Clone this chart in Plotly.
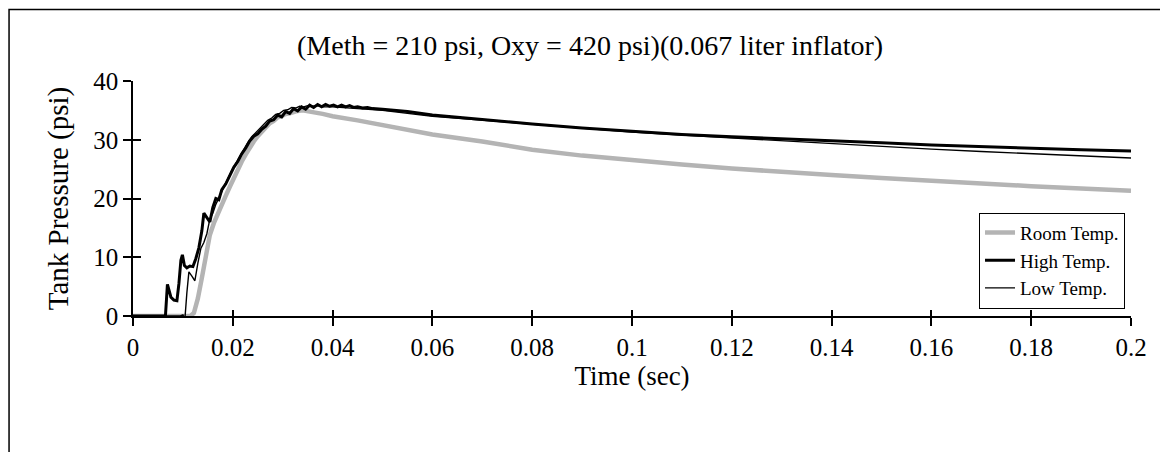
import plotly.graph_objects as go

# ---------------- data ----------------
title_text = "(Meth = 210 psi, Oxy = 420 psi)(0.067 liter inflator)"
x_title = "Time (sec)"
y_title = "Tank Pressure (psi)"
x_ticks = [0, 0.02, 0.04, 0.06, 0.08, 0.1, 0.12, 0.14, 0.16, 0.18, 0.2]
x_tick_labels = ["0", "0.02", "0.04", "0.06", "0.08", "0.1", "0.12", "0.14", "0.16", "0.18", "0.2"]
y_ticks = [0, 10, 20, 30, 40]

room_t = [0, 0.0115, 0.0122, 0.013, 0.0138, 0.0146, 0.0154, 0.0162, 0.017, 0.0178, 0.0186,
          0.0194, 0.0202, 0.021, 0.0218, 0.0226, 0.0234, 0.0242, 0.025, 0.0258, 0.0266,
          0.0274, 0.0282, 0.029, 0.0298, 0.0306, 0.0314, 0.0322, 0.033, 0.034, 0.035,
          0.036, 0.038, 0.04, 0.045, 0.05, 0.055, 0.06, 0.07, 0.08, 0.09, 0.1, 0.11,
          0.12, 0.13, 0.14, 0.15, 0.16, 0.17, 0.18, 0.19, 0.2]
room_p = [0, 0, 0.5, 3.0, 6.5, 10.5, 13.8, 15.8, 17.5, 19.2, 20.5,
          22.0, 23.5, 25.0, 26.3, 27.5, 28.7, 29.7, 30.6, 31.4, 32.1,
          32.8, 33.2, 33.8, 34.0, 34.4, 34.5, 34.8, 34.9, 35.0, 34.9,
          34.7, 34.4, 34.0, 33.3, 32.5, 31.7, 30.9, 29.7, 28.3, 27.3, 26.5, 25.8,
          25.1, 24.5, 24.0, 23.5, 23.0, 22.5, 22.1, 21.7, 21.3]

high_t = [0, 0.0065, 0.0069, 0.0072, 0.0076, 0.0082, 0.0088, 0.0092, 0.0096, 0.0099,
          0.0103, 0.0108, 0.0114, 0.012, 0.0126, 0.0132, 0.0138, 0.0142, 0.0148, 0.0154,
          0.016, 0.0166, 0.0172, 0.0178, 0.0186, 0.0194, 0.0202, 0.021, 0.0218, 0.0226,
          0.0234, 0.0242, 0.025, 0.0258, 0.0266, 0.0274, 0.0282, 0.029, 0.0298, 0.0306,
          0.0314, 0.0322, 0.033, 0.0338, 0.0346, 0.0354, 0.0362, 0.037, 0.0378, 0.0386,
          0.0394, 0.0402, 0.041, 0.0418, 0.0426, 0.0434, 0.0442, 0.045, 0.046, 0.047,
          0.048, 0.05, 0.055, 0.06, 0.07, 0.08, 0.09, 0.1, 0.11, 0.12, 0.13, 0.14, 0.15,
          0.16, 0.17, 0.18, 0.19, 0.2]
high_p = [0, 0, 5.4, 4.5, 3.2, 2.7, 2.6, 5.5, 9.5, 10.4,
          8.6, 8.2, 8.5, 8.4, 9.8, 11.6, 14.5, 17.5, 16.8, 16.0,
          18.5, 20.0, 19.8, 21.5, 22.5, 24.0, 25.3, 26.3, 27.6, 28.6,
          29.8, 30.6, 31.0, 31.8, 32.3, 33.2, 33.4, 34.2, 33.9, 34.8,
          34.5, 35.3, 34.9, 35.6, 35.2, 35.9, 35.5, 36.0, 35.6, 36.0,
          35.7, 35.9, 35.6, 35.9, 35.6, 35.8, 35.5, 35.6, 35.4, 35.5,
          35.3, 35.2, 34.8, 34.2, 33.4, 32.7, 32.0, 31.4, 30.9, 30.5, 30.2, 29.8, 29.5,
          29.1, 28.8, 28.5, 28.3, 28.1]

low_t = [0, 0.0095, 0.0100, 0.0104, 0.0108, 0.0112, 0.0118, 0.0124, 0.013, 0.0136,
         0.0142, 0.0148, 0.0154, 0.016, 0.0166, 0.0174, 0.0182, 0.019, 0.0198, 0.0206,
         0.0214, 0.0222, 0.023, 0.0238, 0.0246, 0.0254, 0.0262, 0.027, 0.0278, 0.0286,
         0.0294, 0.0302, 0.031, 0.0318, 0.0326, 0.0334, 0.0342, 0.035, 0.036, 0.037,
         0.038, 0.04, 0.045, 0.05, 0.06, 0.07, 0.08, 0.09, 0.1, 0.11, 0.12, 0.13, 0.14,
         0.15, 0.16, 0.17, 0.18, 0.19, 0.2]
low_p = [0, 0, 0.2, -0.5, 4.0, 7.5, 6.8, 6.0, 9.0, 11.5,
         12.5, 14.0, 16.5, 17.5, 19.0, 20.5, 22.0, 23.5, 24.8, 26.0,
         27.2, 28.5, 29.5, 30.5, 31.2, 32.0, 32.6, 33.3, 33.7, 34.3,
         34.5, 35.0, 35.1, 35.5, 35.4, 35.7, 35.6, 35.8, 35.7, 35.8,
         35.6, 35.6, 35.3, 35.0, 34.0, 33.3, 32.6, 31.9, 31.3, 30.8, 30.3, 29.8, 29.3,
         28.8, 28.4, 28.0, 27.6, 27.3, 26.9]

# ---------------- figure ----------------
FONT = "Liberation Serif, Times New Roman, serif"

fig = go.Figure()
fig.add_trace(go.Scatter(x=room_t, y=room_p, mode="lines", name="Room Temp.",
                         line=dict(color="#b4b4b4", width=4.5)))
fig.add_trace(go.Scatter(x=high_t, y=high_p, mode="lines", name="High Temp.",
                         line=dict(color="#000000", width=3)))
fig.add_trace(go.Scatter(x=low_t, y=low_p, mode="lines", name="Low Temp.",
                         line=dict(color="#000000", width=1.4)))
# invisible trace carrying the duplicated axes (for crossing tick marks)
fig.add_trace(go.Scatter(x=high_t, y=high_p, mode="lines", xaxis="x2", yaxis="y2",
                         line=dict(color="rgba(0,0,0,0)", width=0), showlegend=False,
                         hoverinfo="skip"))

axis_common = dict(showgrid=False, zeroline=False, showline=True, linecolor="black",
                   linewidth=1.5, ticks="outside", ticklen=8, tickwidth=1.5,
                   tickcolor="black", tickfont=dict(family=FONT, size=25))

# page body adds an 8 px offset; margins compensate so the plot area sits
# at x 133..1131, y 81..316 of the window
fig.update_layout(
    width=1168, height=452,
    margin=dict(l=125, r=45, t=73, b=144, autoexpand=False),
    paper_bgcolor="white", plot_bgcolor="white",
    font=dict(family=FONT, size=25, color="black"),
    showlegend=True,
    legend=dict(x=0.994, xanchor="right", y=0.44, yanchor="top",
                bordercolor="black", borderwidth=1, bgcolor="white",
                font=dict(family=FONT, size=19), tracegroupgap=0),
    xaxis=dict(range=[0, 0.2], tickvals=x_ticks, ticktext=x_tick_labels,
               ticklabelstandoff=0,
               title=dict(text=x_title, standoff=4, font=dict(family=FONT, size=27)),
               **axis_common),
    yaxis=dict(range=[0, 40], tickvals=y_ticks, ticklabelstandoff=0,
               title=dict(text=y_title, standoff=16, font=dict(family=FONT, size=29)),
               **axis_common),
    xaxis2=dict(range=[0, 0.2], overlaying="x", anchor="y2", tickvals=x_ticks,
                showticklabels=False, showgrid=False, zeroline=False,
                showline=False, ticks="inside", ticklen=6, tickwidth=1.5,
                tickcolor="black"),
    yaxis2=dict(range=[0, 40], overlaying="y", anchor="x2", tickvals=y_ticks,
                showticklabels=False, showgrid=False, zeroline=False,
                showline=False, ticks="inside", ticklen=8, tickwidth=1.5,
                tickcolor="black"),
    annotations=[dict(text=title_text, xref="paper", yref="paper", x=0.458, y=1.153,
                      xanchor="center", yanchor="middle", showarrow=False,
                      font=dict(family=FONT, size=28))],
    shapes=[dict(type="rect", xref="paper", yref="paper", x0=-0.1242, x1=1.06,
                 y0=-0.62, y1=1.304, line=dict(color="black", width=1.5),
                 fillcolor="rgba(0,0,0,0)", layer="below")],
)

fig.write_html("out.html")
